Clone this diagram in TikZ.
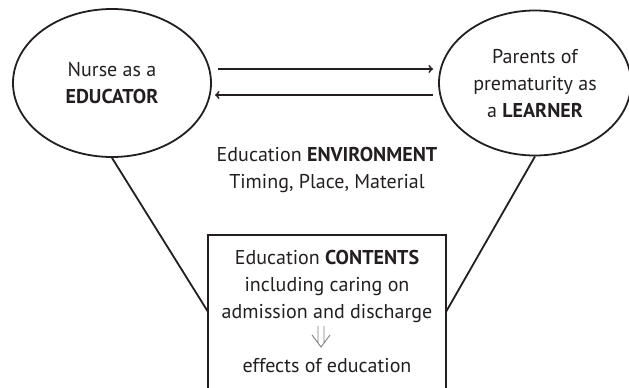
\documentclass[tikz,border=0pt]{standalone}
\usepackage{fontspec}
\setmainfont{PT Sans}
\usepackage{tikz}
\usetikzlibrary{shapes.geometric, arrows, positioning, calc}

\definecolor{ink}{HTML}{231F20}

\begin{document}
\begin{tikzpicture}[
    x=1pt, y=-1pt,
    every node/.style={text=ink, font=\fontsize{20}{27}\selectfont, align=center},
    role/.style={ellipse, draw=ink, line width=1.8pt},
    link/.style={draw=ink, line width=1.8pt}
]
\useasboundingbox (0,0) rectangle (629,388);

% The two partners
\node[role, minimum width=198pt, minimum height=148pt] (nurse) at (112,83)
    {Nurse as a\\ \textbf{EDUCATOR}};
\node[role, minimum width=192pt, minimum height=145pt] (parents) at (535,83)
    {Parents of\\ prematurity as\\ a \textbf{LEARNER}};

\draw[link, ->] (218,69) -- (433,69);
\draw[link, <-] (215,95) -- (433,95);

\node (environment) at (327,170)
    {Education \textbf{ENVIRONMENT}\\ Timing, Place, Material};

% Contents box, open at the bottom
\node[minimum width=238pt, minimum height=153pt] (contents) at (327,311.5)
    {Education \textbf{CONTENTS}\\ including caring on\\ admission and discharge\\[27pt] effects of education};
\draw[link] (contents.south west) |- (contents.north) -| (contents.south east);

\coordinate (down) at (321,337);
\draw[gray, line width=0.9pt] ($(down)+(-3,-11)$) -- ($(down)+(-3,6)$)
    ($(down)+(3,-11)$) -- ($(down)+(3,6)$)
    ($(down)+(-9,-2)$) -- ($(down)+(0,10)$) -- ($(down)+(9,-2)$);

\draw[link] (nurse.south) -- (contents.west);
\draw[link] (parents.south) -- (contents.east);
\end{tikzpicture}
\end{document}
